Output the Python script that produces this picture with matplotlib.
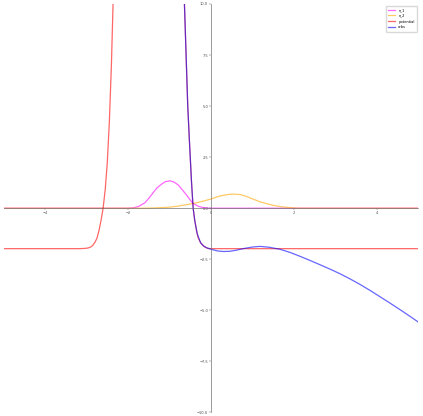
import numpy as np
import matplotlib
matplotlib.use("Agg")
from matplotlib import pyplot as plt

# values
n1_x = [-5.0, -2.0, -1.87, -1.75, -1.59, -1.5, -1.39, -1.3, -1.19, -1.1, -0.99,
        -0.9, -0.79, -0.7, -0.59, -0.5, -0.43, -0.3, -0.19, -0.05, 5.0]
n1_y = [0.0, 0.0, 0.02, 0.08, 0.27, 0.48, 0.77, 1.0, 1.18, 1.30, 1.34,
        1.29, 1.14, 0.92, 0.65, 0.40, 0.23, 0.09, 0.03, 0.0, 0.0]

n2_x = [-5.0, -1.7, -1.4, -1.2, -1.0, -0.8, -0.6, -0.43, -0.2, -0.02, 0.2, 0.4,
        0.54, 0.7, 0.85, 1.02, 1.2, 1.35, 1.5, 1.7, 1.9, 2.1, 5.0]
n2_y = [0.0, 0.0, 0.01, 0.03, 0.05, 0.1, 0.17, 0.23, 0.34, 0.44, 0.59, 0.67,
        0.69, 0.67, 0.58, 0.44, 0.30, 0.22, 0.14, 0.07, 0.03, 0.0, 0.0]

pot_x = [-5.0, -3.2, -3.1, -3.0, -2.95, -2.9, -2.85, -2.8, -2.75, -2.7, -2.65,
         -2.6, -2.55, -2.5, -2.45, -2.4, -2.36, -2.3, -0.72, -0.64, -0.60, -0.56,
         -0.52, -0.50, -0.47, -0.43, -0.39, -0.35, -0.31, -0.26, -0.22, -0.16,
         -0.10, -0.05, 0.0, 5.0]
pot_y = [-1.98, -1.98, -1.975, -1.96, -1.94, -1.9, -1.82, -1.68, -1.48, -1.1, -0.6,
         0.0, 0.9, 2.2, 4.2, 7.0, 10.0, 15.0, 15.0, 10.0, 7.5, 5.0,
         3.3, 2.5, 1.3, 0.0, -0.62, -1.08, -1.44, -1.66, -1.77, -1.88,
         -1.95, -1.975, -1.98, -1.98]

orbs_x = [-0.70, -0.64, -0.60, -0.56, -0.52, -0.50, -0.47, -0.43, -0.39, -0.33,
          -0.25, -0.18, -0.10, 0.0, 0.15, 0.30, 0.45, 0.6, 0.8, 1.0, 1.18, 1.4,
          1.66, 1.9, 2.14, 2.4, 2.63, 2.9, 3.11, 3.35, 3.59, 3.83, 4.07, 4.31,
          4.55, 4.8, 5.0]
orbs_y = [14.0, 10.0, 7.5, 5.0, 3.3, 2.5, 1.3, 0.0, -0.62, -1.27,
          -1.69, -1.85, -1.94, -2.01, -2.09, -2.12, -2.11, -2.06, -1.97, -1.9, -1.87, -1.91,
          -2.01, -2.16, -2.35, -2.57, -2.77, -3.01, -3.21, -3.46, -3.73, -4.02, -4.33, -4.64,
          -4.96, -5.30, -5.58]

fig = plt.figure(figsize=(4.23, 4.16), dpi=100)
ax = fig.add_axes([0.0083, 0.0085, 0.981, 0.982])

ax.plot(n1_x, n1_y, color="magenta", alpha=0.6, lw=0.9, label="n_1")
ax.plot(n2_x, n2_y, color="orange", alpha=0.6, lw=0.9, label="n_2")
ax.plot(pot_x, pot_y, color="red", alpha=0.6, lw=0.9, label="potential")
ax.plot(orbs_x, orbs_y, color="blue", alpha=0.6, lw=0.9, label="orbs")

ax.set_xlim(-5, 5)
ax.set_ylim(-10, 10)
ax.spines["left"].set_position(("data", 0))
ax.spines["bottom"].set_position(("data", 0))
ax.spines["right"].set_visible(False)
ax.spines["top"].set_visible(False)
for s in ["left", "bottom"]:
    ax.spines[s].set_linewidth(0.5)
    ax.spines[s].set_color("0.45")
ax.set_xticks([-4, -2, 0, 2, 4])
ax.set_yticks(np.arange(-10, 10.1, 2.5))
ax.tick_params(labelsize=2.6, length=1.2, width=0.3, pad=0.8, colors="0.3")

ax.legend(loc="upper right", fontsize=2.6, framealpha=1, borderpad=0.6,
          handlelength=2.0, edgecolor="0.85")

plt.savefig("out.png", dpi=100)
